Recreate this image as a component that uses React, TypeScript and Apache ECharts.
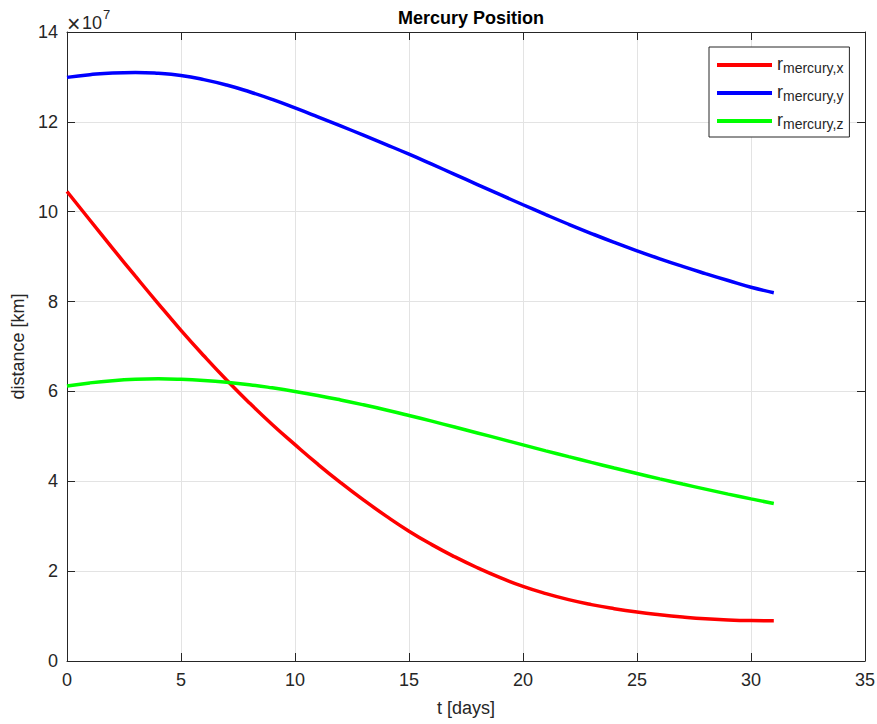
import React, { useEffect, useRef } from "react";
import * as echarts from "echarts";

const days = [0, 1, 2, 3, 4, 5, 6, 7, 8, 9, 10, 11, 12, 13, 14, 15, 16, 17, 18, 19, 20, 21, 22, 23, 24, 25, 26, 27, 28, 29, 30, 31];
// values in units of 1e7 km
const rx = [10.45, 9.815, 9.185, 8.565, 7.955, 7.36, 6.795, 6.255, 5.745, 5.265, 4.815, 4.38, 3.97, 3.585, 3.225, 2.89, 2.59, 2.32, 2.075, 1.855, 1.66, 1.5, 1.365, 1.255, 1.165, 1.09, 1.03, 0.98, 0.94, 0.915, 0.9, 0.895];
const ry = [12.99, 13.05, 13.09, 13.1, 13.08, 13.03, 12.94, 12.82, 12.67, 12.5, 12.31, 12.112, 11.91, 11.704, 11.494, 11.28, 11.058, 10.832, 10.605, 10.379, 10.155, 9.935, 9.721, 9.515, 9.317, 9.129, 8.951, 8.783, 8.623, 8.468, 8.318, 8.198];
const rz = [6.12, 6.19, 6.24, 6.27, 6.28, 6.27, 6.245, 6.205, 6.15, 6.08, 6.0, 5.91, 5.81, 5.702, 5.587, 5.465, 5.338, 5.208, 5.076, 4.943, 4.81, 4.678, 4.548, 4.42, 4.295, 4.173, 4.054, 3.938, 3.825, 3.715, 3.608, 3.504];
const seriesNames = ["mercury,x", "mercury,y", "mercury,z"];
const seriesColors = ["#ff0000", "#0000ff", "#00ff00"];
const xTicks = { min: 0, max: 35, interval: 5 };
const yTicks = { min: 0, max: 14, interval: 2 };

const FONT = "Liberation Sans, Arial, Helvetica, sans-serif";
const TXT = "#262626";

export default function App() {
  const ref = useRef<HTMLDivElement>(null);
  useEffect(() => {
    document.body.style.margin = "0";
    const chart = echarts.init(ref.current!, null, { renderer: "svg" });
    const data = [rx, ry, rz];
    const axisCommon = {
      axisLine: { show: true, onZero: false, lineStyle: { color: TXT, width: 1 } },
      axisTick: { show: true, inside: true, length: 8, lineStyle: { color: TXT } },
    };
    chart.setOption({
      animation: false,
      textStyle: { fontFamily: FONT },
      title: {
        text: "Mercury Position",
        left: 466,
        textAlign: "center",
        top: 4,
        textStyle: { fontSize: 18, fontWeight: "bold", color: "#000", fontFamily: FONT },
      },
      grid: { left: 67, right: 12, top: 32, bottom: 63, containLabel: false, outerBoundsMode: "none" },
      xAxis: [
        {
          type: "value",
          ...xTicks,
          position: "bottom",
          ...axisCommon,
          axisLabel: { color: TXT, fontSize: 18, margin: 10, fontFamily: FONT },
          splitLine: { show: true, lineStyle: { color: "#e3e3e3", width: 1 } },
          name: "t [days]",
          nameLocation: "middle",
          nameGap: 38,
          nameTextStyle: { color: TXT, fontSize: 18, fontFamily: FONT },
        },
        {
          type: "value",
          ...xTicks,
          position: "top",
          ...axisCommon,
          axisLabel: { show: false },
          splitLine: { show: false },
        },
      ],
      yAxis: [
        {
          type: "value",
          ...yTicks,
          position: "left",
          ...axisCommon,
          axisLabel: { color: TXT, fontSize: 18, margin: 9, fontFamily: FONT },
          splitLine: { show: true, lineStyle: { color: "#e3e3e3", width: 1 } },
          name: "distance [km]",
          nameLocation: "middle",
          nameGap: 36,
          nameRotate: 90,
          nameTextStyle: { color: TXT, fontSize: 18, fontFamily: FONT },
        },
        {
          type: "value",
          ...yTicks,
          position: "right",
          ...axisCommon,
          axisLabel: { show: false },
          splitLine: { show: false },
        },
      ],
      legend: {
        orient: "vertical",
        left: 709,
        top: 47,
        padding: [6, 6, 6, 8],
        itemGap: 6,
        itemWidth: 55,
        itemHeight: 4,
        icon: "rect",
        borderColor: TXT,
        borderWidth: 1,
        backgroundColor: "#fff",
        data: seriesNames,
        formatter: (name: string) => `{r|r}{s|${name}}`,
        textStyle: {
          color: TXT,
          rich: {
            r: { fontSize: 18, fontFamily: FONT, color: TXT, verticalAlign: "top", lineHeight: 20 },
            s: { fontSize: 14, fontFamily: FONT, color: TXT, verticalAlign: "bottom", lineHeight: 15, padding: [8, 0, 0, 0] },
          },
        },
      },
      graphic: [
        {
          type: "text",
          left: 67,
          top: 12,
          style: { text: "×", fontSize: 23, fontFamily: FONT, fill: TXT },
        },
        {
          type: "text",
          left: 82,
          top: 14,
          style: { text: "10", fontSize: 18, fontFamily: FONT, fill: TXT },
        },
        {
          type: "text",
          left: 103,
          top: 8,
          style: { text: "7", fontSize: 13, fontFamily: FONT, fill: TXT },
        },
      ],
      series: data.map((vals, i) => ({
        type: "line",
        name: seriesNames[i],
        data: days.map((d, j) => [d, vals[j]]),
        showSymbol: false,
        smooth: true,
        lineStyle: { color: seriesColors[i], width: 3.5 },
        itemStyle: { color: seriesColors[i] },
        xAxisIndex: 0,
        yAxisIndex: 0,
      })),
    });
    return () => chart.dispose();
  }, []);
  return <div ref={ref} style={{ position: "absolute", left: 0, top: 0, width: 877, height: 724 }} />;
}
